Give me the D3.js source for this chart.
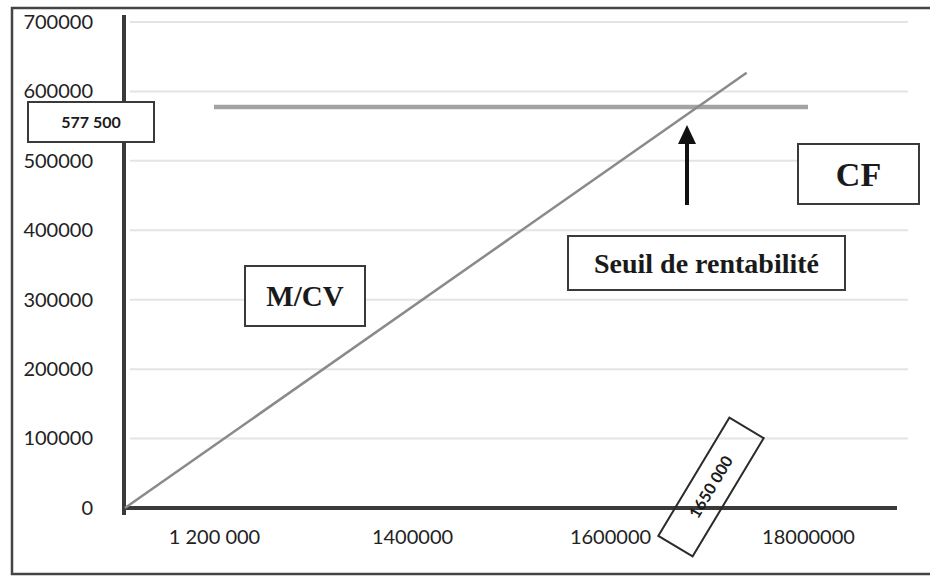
<!DOCTYPE html>
<html>
<head>
<meta charset="utf-8">
<script src="https://cdn.jsdelivr.net/npm/d3@7"></script>
<style>
    body { margin: 0; background: #fff; }
    svg { display: block; }
    .tick text { font-family: Lato, "Open Sans", sans-serif; font-size: 20px; fill: #222; }
    .box-serif { font-family: "Liberation Serif", "Times New Roman", serif; font-weight: bold; fill: #1a1a1a; }
    .box-sans { font-family: Lato, "Open Sans", sans-serif; font-weight: bold; fill: #1a1a1a; }
</style>
</head>
<body>
<svg id="visualisation" width="930" height="580"></svg>
<script>
// y axis
var yTicks = [0, 100000, 200000, 300000, 400000, 500000, 600000, 700000];
// x axis (labels as typed in the original, including the typo)
var xTickValues = [1200000, 1400000, 1600000, 1800000];
var xTickLabels = ["1 200 000", "1400000", "1600000", "18000000"];
// M/CV line (margin on variable costs)
var mcvCA = [1110000, 1738000];
var mcvValues = [0, 627000];
// CF line (fixed costs)
var cfCA = [1200000, 1800000];
var cfValues = [577500, 577500];
// annotations
var cfLabel = "577 500";
var breakEvenLabel = "1650 000";

var initchart = function () {
    var vis = d3.select("#visualisation"),
        WIDTH = 930,
        HEIGHT = 580,
        xScale = d3.scaleLinear().domain([1200000, 1800000]).range([214, 808]),
        yScale = d3.scaleLinear().domain([0, 700000]).range([508, 22]);

    vis.append("rect")
        .attr("width", WIDTH)
        .attr("height", HEIGHT)
        .attr("fill", "#fff");

    // outer frame
    vis.append("rect")
        .attr("x", 12)
        .attr("y", 8)
        .attr("width", 930)
        .attr("height", 566)
        .attr("fill", "none")
        .attr("stroke", "#444")
        .attr("stroke-width", 2.5);

    // gridlines
    vis.append("g")
        .selectAll("line")
        .data(yTicks.slice(1))
        .enter().append("line")
        .attr("x1", 130)
        .attr("x2", 908)
        .attr("y1", function (d) { return yScale(d); })
        .attr("y2", function (d) { return yScale(d); })
        .attr("stroke", "#e4e4e4")
        .attr("stroke-width", 2);

    // tick labels
    var yAxis = d3.axisLeft(yScale).tickValues(yTicks).tickSize(0).tickPadding(31)
        .tickFormat(function (d) { return String(d); });
    var gy = vis.append("g")
        .attr("class", "y axis")
        .attr("transform", "translate(124,0)")
        .call(yAxis);
    gy.select(".domain").remove();

    var xAxis = d3.axisBottom(xScale).tickValues(xTickValues).tickSize(0).tickPadding(22)
        .tickFormat(function (d, i) { return xTickLabels[i]; });
    var gx = vis.append("g")
        .attr("class", "x axis")
        .attr("transform", "translate(0," + yScale(0) + ")")
        .call(xAxis);
    gx.select(".domain").remove();

    // axis lines
    vis.append("line")
        .attr("x1", 124).attr("x2", 124)
        .attr("y1", 15).attr("y2", 515)
        .attr("stroke", "#3a3a3a").attr("stroke-width", 4);
    vis.append("line")
        .attr("x1", 122).attr("x2", 897)
        .attr("y1", yScale(0)).attr("y2", yScale(0))
        .attr("stroke", "#3a3a3a").attr("stroke-width", 4);

    var lineGen = d3.line()
        .x(function (d) { return xScale(d[0]); })
        .y(function (d) { return yScale(d[1]); });

    // CF
    vis.append("path")
        .attr("d", lineGen(d3.zip(cfCA, cfValues)))
        .attr("stroke", "#a3a3a3")
        .attr("stroke-width", 4.5)
        .attr("fill", "none");

    // M/CV
    vis.append("path")
        .attr("d", lineGen(d3.zip(mcvCA, mcvValues)))
        .attr("stroke", "#8a8a8a")
        .attr("stroke-width", 2.5)
        .attr("fill", "none");

    // boxed labels
    var box = function (x, y, w, h, text, cls, size) {
        var g = vis.append("g");
        g.append("rect")
            .attr("x", x).attr("y", y)
            .attr("width", w).attr("height", h)
            .attr("fill", "#fff")
            .attr("stroke", "#3a3a3a")
            .attr("stroke-width", 2);
        g.append("text")
            .attr("class", cls)
            .attr("x", x + w / 2)
            .attr("y", y + h / 2)
            .attr("dy", "0.35em")
            .attr("text-anchor", "middle")
            .style("font-size", size + "px")
            .text(text);
    };
    box(28, 102, 126, 40, cfLabel, "box-sans", 16);
    box(245, 266, 120, 60, "M/CV", "box-serif", 29);
    box(568, 236, 277, 54, "Seuil de rentabilité", "box-serif", 28);
    box(798, 144, 121, 60, "CF", "box-serif", 34);

    // arrow to the break-even point
    vis.append("line")
        .attr("x1", 687).attr("x2", 687)
        .attr("y1", 205).attr("y2", 138)
        .attr("stroke", "#111").attr("stroke-width", 4);
    vis.append("path")
        .attr("d", "M687,125 L678,144 L696,144 Z")
        .attr("fill", "#111");

    // rotated break-even label
    var rot = vis.append("g")
        .attr("transform", "translate(711,487) rotate(-59)");
    rot.append("rect")
        .attr("x", -69).attr("y", -20)
        .attr("width", 138).attr("height", 40)
        .attr("fill", "none")
        .attr("stroke", "#2a2a2a")
        .attr("stroke-width", 2);
    rot.append("text")
        .attr("class", "box-sans")
        .attr("x", 0).attr("y", 0)
        .attr("dy", "0.35em")
        .attr("text-anchor", "middle")
        .style("font-size", "16px")
        .text(breakEvenLabel);
};

initchart();
</script>
</body>
</html>
